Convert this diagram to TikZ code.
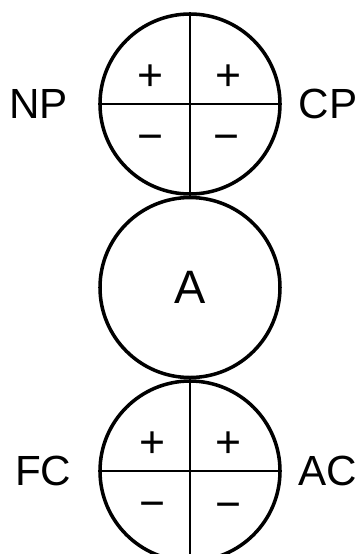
\documentclass[tikz,border=0pt]{standalone}
\usepackage{fontspec}
\setmainfont{Liberation Sans}
\usetikzlibrary{positioning, calc}

\begin{document}
\begin{tikzpicture}[
  node distance=0pt,
  ring/.style={draw, circle, line width=3pt, minimum size=5.4cm, inner sep=0pt, font=\fontsize{40}{40}\selectfont},
  split/.style={line width=1.7pt},
  tag/.style={font=\fontsize{36}{36}\selectfont, inner sep=0pt},
  sign/.style={font=\fontsize{38}{38}\selectfont, inner sep=0pt}
]
\useasboundingbox (0,0) rectangle (10.8,-16.62);

% Circles (stacked)
\node[ring] (upper) at (5.7,-3.12) {};
\node[ring, below=of upper] (mid) {A};
\node[ring, below=of mid] (lower) {};

% Quadrant lines
\draw[split] (upper.west) -- (upper.east);
\draw[split] (upper.north) -- (upper.south);
\draw[split] (lower.west) -- (lower.east);
\draw[split] (lower.north) -- (lower.south);

% Signs, upper circle
\node[sign] (upl) at ($(upper)+(-1.2,0.78)$) {+};
\node[sign] (upr) at ($(upper)+(1.14,0.78)$) {+};
\node[sign] (unl) at ($(upper)+(-1.2,-1.17)$) {−};
\node[sign] (unr) at ($(upper)+(1.1,-1.17)$) {−};

% Signs, lower circle
\node[sign] (lpl) at ($(lower)+(-1.14,0.78)$) {+};
\node[sign] (lpr) at ($(lower)+(1.14,0.78)$) {+};
\node[sign] (lnl) at ($(lower)+(-1.14,-1.17)$) {−};
\node[sign] (lnr) at ($(lower)+(1.14,-1.2)$) {−};

% Labels
\node[tag, left=0.9cm of upper] (np) {NP};
\node[tag, right=0.5cm of upper] (cp) {CP};
\node[tag, left=0.8cm of lower] (fc) {FC};
\node[tag, right=0.5cm of lower] (ac) {AC};

\end{tikzpicture}
\end{document}
